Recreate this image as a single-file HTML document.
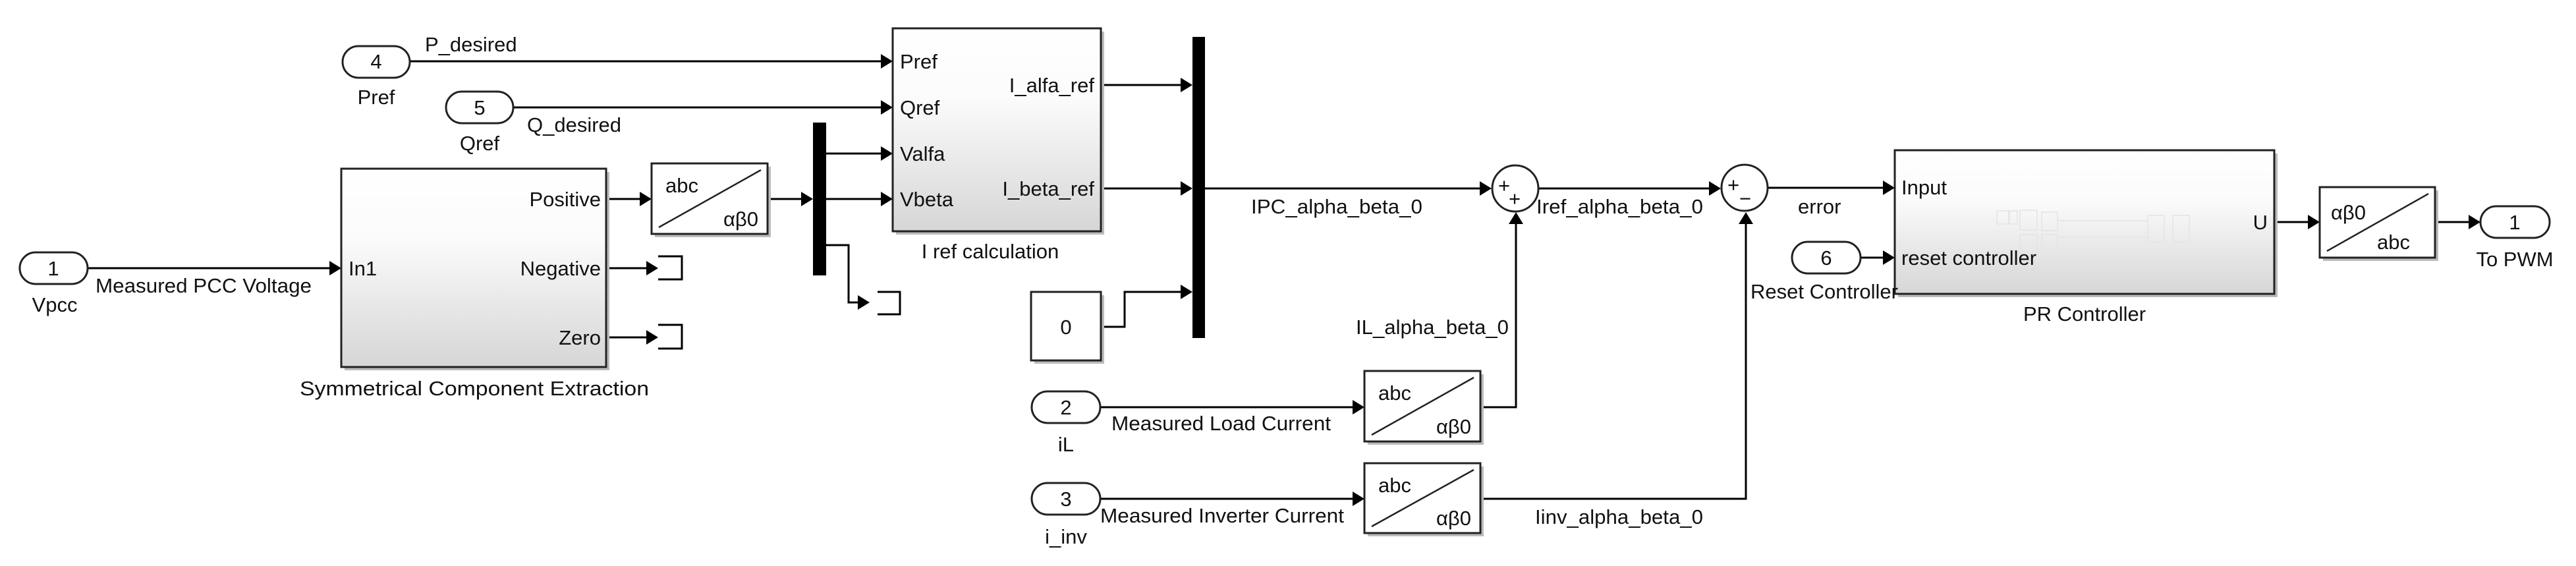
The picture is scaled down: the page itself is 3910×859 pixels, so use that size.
<!DOCTYPE html>
<html><head><meta charset="utf-8"><style>
html,body{margin:0;padding:0;background:#fff;}
svg{display:block;}
text{font-family:"Liberation Sans",Arial,sans-serif;font-size:31px;fill:#111;}
</style></head><body>
<svg width="3910" height="859" viewBox="0 0 3910 859" xmlns="http://www.w3.org/2000/svg">
<defs>
<linearGradient id="g" x1="0" y1="0" x2="0" y2="1">
<stop offset="0" stop-color="#ffffff"/><stop offset="0.35" stop-color="#fbfbfb"/><stop offset="1" stop-color="#d6d6d6"/>
</linearGradient>
</defs>
<g stroke="#000" stroke-width="3" fill="none">
<polyline points="622,93 1340,93"/>
<polyline points="779,163 1340,163"/>
<polyline points="133,407 503,407"/>
<polyline points="920,302 974,302"/>
<polyline points="920,407 985,407"/>
<polyline points="920,512 985,512"/>
<polyline points="1165,302 1220,302"/>
<polyline points="1254,233 1340,233"/>
<polyline points="1254,302 1340,302"/>
<polyline points="1254,372 1288,372 1288,459 1305,459"/>
<polyline points="1671,129 1795,129"/>
<polyline points="1671,286 1795,286"/>
<polyline points="1671,496 1707,496 1707,443 1795,443"/>
<polyline points="1829,286 2250,286"/>
<polyline points="2336,286 2598,286"/>
<polyline points="2247,618 2301,618 2301,336"/>
<polyline points="2247,757 2650,757 2650,336"/>
<polyline points="2684,285 2862,285"/>
<polyline points="2824,391 2862,391"/>
<polyline points="3452,337 3507,337"/>
<polyline points="3696,337 3751,337"/>
<polyline points="1670,618 2057,618"/>
<polyline points="1670,757 2057,757"/>
<polyline points="999,389 1035,389 1035,424 999,424"/>
<polyline points="999,493 1035,493 1035,529 999,529"/>
<polyline points="1332,443 1366,443 1366,477 1332,477"/>
</g>
<g fill="#000">
<polygon points="1337,82 1355,93 1337,104"/>
<polygon points="1337,152 1355,163 1337,174"/>
<polygon points="500,396 518,407 500,418"/>
<polygon points="971,291 989,302 971,313"/>
<polygon points="981,396 999,407 981,418"/>
<polygon points="981,501 999,512 981,523"/>
<polygon points="1216,291 1234,302 1216,313"/>
<polygon points="1337,222 1355,233 1337,244"/>
<polygon points="1337,291 1355,302 1337,313"/>
<polygon points="1302,448 1320,459 1302,470"/>
<polygon points="1792,118 1810,129 1792,140"/>
<polygon points="1792,275 1810,286 1792,297"/>
<polygon points="1792,432 1810,443 1792,454"/>
<polygon points="2246,275 2264,286 2246,297"/>
<polygon points="2594,275 2612,286 2594,297"/>
<polygon points="2858,274 2876,285 2858,296"/>
<polygon points="2858,380 2876,391 2858,402"/>
<polygon points="3503,326 3521,337 3503,348"/>
<polygon points="3747,326 3765,337 3747,348"/>
<polygon points="2053,607 2071,618 2053,629"/>
<polygon points="2053,746 2071,757 2053,768"/>
<polygon points="2290,340 2301,322 2312,340"/>
<polygon points="2639,340 2650,322 2661,340"/>
<rect x="1234" y="186" width="20" height="232"/>
<rect x="1810" y="56" width="19" height="457"/>
</g>
<g fill="#bbb">
<rect x="523" y="261" width="402" height="301"/>
<rect x="1360" y="48" width="316" height="308"/>
<rect x="2881" y="233" width="576" height="218"/>
<rect x="994" y="253" width="176" height="107"/>
<rect x="2076" y="568" width="176" height="107"/>
<rect x="2076" y="708" width="176" height="106"/>
<rect x="3526" y="289" width="175" height="107"/>
<rect x="1570" y="448" width="106" height="104"/>
</g>
<g stroke="#222" stroke-width="3">
<rect x="518" y="256" width="402" height="301" fill="url(#g)"/>
<rect x="1355" y="43" width="316" height="308" fill="url(#g)"/>
<rect x="2876" y="228" width="576" height="218" fill="url(#g)"/>
<rect x="989" y="248" width="176" height="107" fill="#fff"/>
<rect x="2071" y="563" width="176" height="107" fill="#fff"/>
<rect x="2071" y="703" width="176" height="106" fill="#fff"/>
<rect x="3521" y="284" width="175" height="107" fill="#fff"/>
<rect x="1565" y="443" width="106" height="104" fill="#fff"/>
</g>
<g stroke="#222" stroke-width="2.5">
<line x1="1000" y1="345" x2="1155" y2="258"/>
<line x1="2082" y1="660" x2="2237" y2="573"/>
<line x1="2082" y1="799" x2="2237" y2="713"/>
<line x1="3532" y1="381" x2="3686" y2="294"/>
</g>
<g stroke="#222" stroke-width="3" fill="#fff">
<rect x="520" y="70" width="102" height="48" rx="24"/>
<rect x="677" y="139" width="102" height="48" rx="24"/>
<rect x="30" y="383" width="103" height="48" rx="24"/>
<rect x="1566" y="594" width="104" height="48" rx="24"/>
<rect x="1566" y="733" width="104" height="48" rx="24"/>
<rect x="2720" y="367" width="104" height="48" rx="24"/>
<rect x="3765" y="313" width="105" height="48" rx="24"/>
<circle cx="2300" cy="286" r="35"/>
<circle cx="2648" cy="285" r="35"/>
</g>
<g stroke="#e4e4e4" stroke-width="1.5" fill="none">
<rect x="3031" y="320" width="18" height="20"/><rect x="3050" y="320" width="12" height="20"/><rect x="3066" y="319" width="26" height="30"/>
<rect x="3099" y="322" width="24" height="28"/><rect x="3099" y="356" width="24" height="28"/><rect x="3066" y="356" width="26" height="30"/>
<rect x="3260" y="327" width="25" height="40"/><rect x="3298" y="327" width="25" height="40"/>
<line x1="3123" y1="335" x2="3260" y2="335"/><line x1="3123" y1="360" x2="3260" y2="360"/>
</g>
<g text-anchor="middle">
<text x="571" y="104">4</text>
<text x="728" y="174">5</text>
<text x="81" y="418">1</text>
<text x="1618" y="629">2</text>
<text x="1618" y="768">3</text>
<text x="2772" y="402">6</text>
<text x="3817" y="348">1</text>
<text x="1618" y="507">0</text>
<text x="571" y="158">Pref</text>
<text x="728" y="228">Qref</text>
<text x="83" y="473">Vpcc</text>
<text x="1618" y="685">iL</text>
<text x="1618" y="825">i_inv</text>
<text x="3817" y="404">To PWM</text>
<text x="720" y="600" textLength="530" lengthAdjust="spacingAndGlyphs">Symmetrical Component Extraction</text>
<text x="1503" y="392">I ref calculation</text>
<text x="3164" y="487">PR Controller</text>
<text x="2769" y="453">Reset Controller</text>
</g>
<text x="645" y="78">P_desired</text>
<text x="800" y="200">Q_desired</text>
<text x="145" y="444" textLength="328" lengthAdjust="spacingAndGlyphs">Measured PCC Voltage</text>
<text x="529" y="418">In1</text>
<text x="912" y="313" text-anchor="end">Positive</text>
<text x="912" y="418" text-anchor="end">Negative</text>
<text x="912" y="523" text-anchor="end">Zero</text>
<text x="1010" y="292">abc</text>
<text x="1098" y="343">αβ0</text>
<text x="2092" y="607">abc</text>
<text x="2180" y="658">αβ0</text>
<text x="2092" y="747">abc</text>
<text x="2180" y="797">αβ0</text>
<text x="3538" y="333">αβ0</text>
<text x="3608" y="378">abc</text>
<text x="1366" y="104">Pref</text>
<text x="1366" y="174">Qref</text>
<text x="1366" y="244">Valfa</text>
<text x="1366" y="313">Vbeta</text>
<text x="1661" y="140" text-anchor="end">I_alfa_ref</text>
<text x="1661" y="297" text-anchor="end">I_beta_ref</text>
<text x="1899" y="324" textLength="260" lengthAdjust="spacingAndGlyphs">IPC_alpha_beta_0</text>
<text x="2332" y="324" textLength="253" lengthAdjust="spacingAndGlyphs">Iref_alpha_beta_0</text>
<text x="2058" y="507" textLength="232" lengthAdjust="spacingAndGlyphs">IL_alpha_beta_0</text>
<text x="1687" y="653" textLength="333" lengthAdjust="spacingAndGlyphs">Measured Load Current</text>
<text x="1670" y="793" textLength="370" lengthAdjust="spacingAndGlyphs">Measured Inverter Current</text>
<text x="2330" y="795" textLength="255" lengthAdjust="spacingAndGlyphs">Iinv_alpha_beta_0</text>
<text x="2729" y="324">error</text>
<text x="2886" y="295">Input</text>
<text x="2886" y="402">reset controller</text>
<text x="3442" y="348" text-anchor="end">U</text>
<g style="font-size:20px">
<text x="2274" y="292">+</text><text x="2290" y="312">+</text>
<text x="2622" y="291">+</text><text x="2640" y="312">−</text>
</g>
</svg>
</body></html>
